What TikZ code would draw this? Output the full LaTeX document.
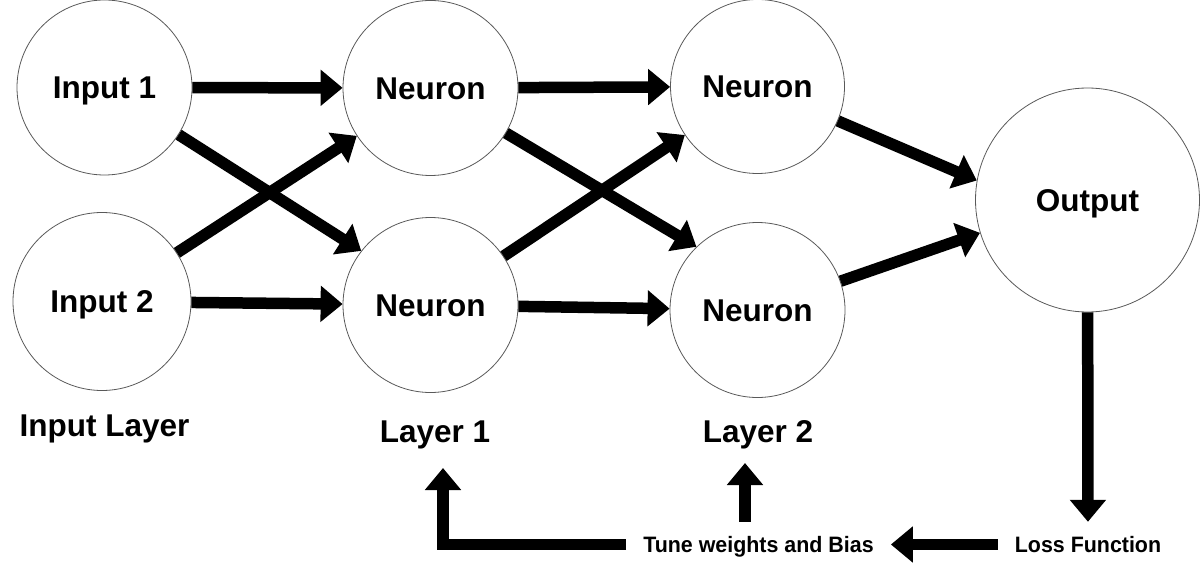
\documentclass[tikz,border=0pt]{standalone}
\usepackage{fontspec}
\setmainfont{Liberation Sans}
\usetikzlibrary{arrows.meta}
\tikzset{
  neuron/.style={circle, draw=black!65, line width=0.8pt, inner sep=0pt,
    font=\fontsize{31.5}{32}\selectfont\bfseries, text height=22.5pt, text depth=0pt},
  bigarrow/.style={line width=11.5pt, -{Triangle[length=22pt,width=35pt]}},
  caption/.style={font=\fontsize{31.5}{32}\selectfont\bfseries, inner sep=0pt, anchor=base},
  small/.style={font=\fontsize{22.3}{23}\selectfont\bfseries\addfontfeature{FakeStretch=0.96},
    text height=16pt, text depth=0pt, inner xsep=17pt, inner ysep=14.5pt}
}
\begin{document}
\begin{tikzpicture}[x=1pt,y=1pt]
\useasboundingbox (0,0) rectangle (1200,-567);
% nodes
\node[neuron, minimum size=175pt] (in1) at (104.5,-87.5) {Input 1};
\node[neuron, minimum size=178pt] (in2) at (102,-301.5) {Input 2};
\node[neuron, minimum size=175pt] (n1t) at (430.5,-88) {Neuron};
\node[neuron, minimum size=175pt] (n1b) at (430.5,-305) {Neuron};
\node[neuron, minimum size=174pt] (n2t) at (757.5,-86.5) {Neuron};
\node[neuron, minimum size=175pt] (n2b) at (757.5,-310) {Neuron};
\node[neuron, minimum size=224pt] (out) at (1087.5,-200) {Output};
% captions
\node[caption] (capin) at (104.5,-436) {Input Layer};
\node[caption] (cap1) at (435,-442) {Layer 1};
\node[caption] (cap2) at (758,-442) {Layer 2};
% bottom texts
\node[small] (loss) at (1088,-544.5) {Loss Function};
\node[small] (tune) at (758.5,-544.5) {Tune weights and Bias};
\coordinate (l1up) at (443,-468);
\coordinate (l2up) at (745,-463);
% connectors
\draw[bigarrow] (in1) -- (n1t);
\draw[bigarrow] (in1) -- (n1b.142);
\draw[bigarrow] (in2) -- (n1t);
\draw[bigarrow] (in2) -- (n1b);
\draw[bigarrow] (n1t) -- (n2t);
\draw[bigarrow] (n1t) -- (n2b.134);
\draw[bigarrow] (n1b) -- (n2t);
\draw[bigarrow] (n1b) -- (n2b);
\draw[bigarrow] (n2t) -- (out.170);
\draw[bigarrow] (n2b) -- (out.197);
\draw[bigarrow] (out) -- (loss);
\draw[bigarrow] (loss) -- (tune);
\draw[bigarrow] (tune.north -| l2up) -- (l2up);
\draw[bigarrow] (tune.west) -| (l1up);
\end{tikzpicture}
\end{document}
